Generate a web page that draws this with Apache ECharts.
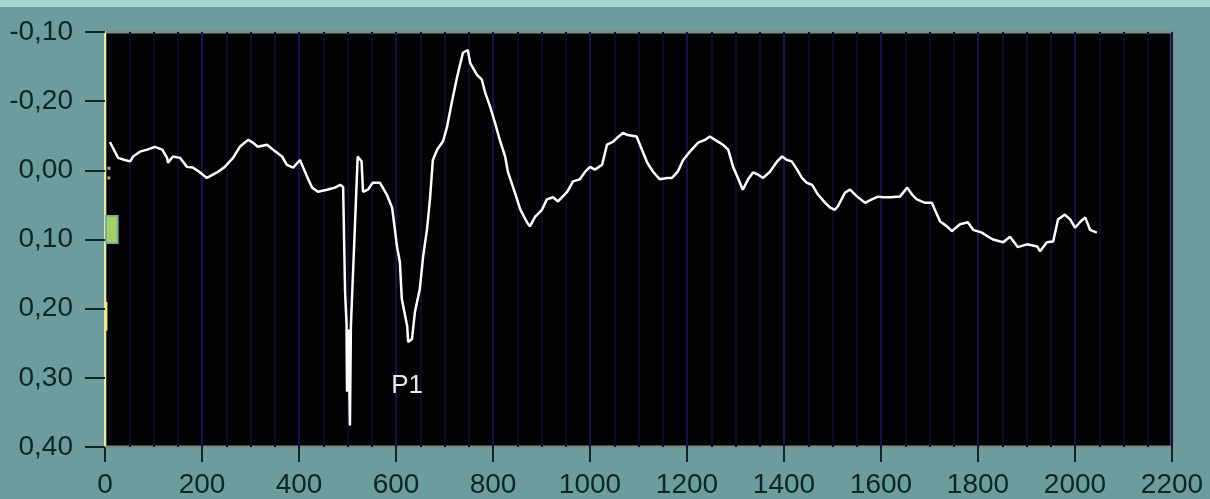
<!DOCTYPE html>
<html>
<head>
<meta charset="utf-8">
<script src="https://cdn.jsdelivr.net/npm/echarts@6/dist/echarts.min.js"></script>
<style>
html,body{margin:0;padding:0;background:#6c9c9e;}
#c{width:1210px;height:499px;}
</style>
</head>
<body>
<div id="c"></div>
<script>
// sample positions (x axis) and signal values
const xValues = [10,16,27,41,52,58,72,87,103,118,128,130,140,155,169,181,196,210,231,247,264,278,295,305,315,334,346,365,375,388,402,408,419,427,439,458,474,485,491,495,498,499,502,505,507,515,521,529,532,542,552,567,581,592,602,608,612,623,625,633,639,649,656,664,670,676,685,697,705,715,726,738,748,753,767,777,784,794,804,814,825,831,845,856,870,876,887,901,911,924,934,953,965,979,990,1000,1010,1025,1035,1047,1056,1068,1078,1096,1107,1118,1130,1144,1159,1169,1181,1192,1206,1223,1237,1247,1258,1274,1285,1295,1305,1315,1326,1336,1346,1357,1371,1386,1396,1406,1416,1427,1437,1447,1458,1470,1485,1495,1505,1511,1526,1536,1551,1567,1581,1594,1604,1619,1639,1654,1664,1674,1691,1705,1711,1722,1736,1746,1763,1779,1790,1808,1821,1831,1852,1866,1882,1901,1922,1928,1942,1955,1965,1979,1990,2000,2010,2021,2031,2045];
const signal = [0.041,0.033,0.018,0.015,0.013,0.020,0.027,0.030,0.034,0.030,0.018,0.011,0.020,0.018,0.005,0.004,-0.003,-0.011,-0.003,0.005,0.018,0.034,0.044,0.040,0.034,0.037,0.030,0.020,0.008,0.004,0.015,0.005,-0.013,-0.025,-0.031,-0.028,-0.025,-0.021,-0.024,-0.176,-0.222,-0.320,-0.230,-0.369,-0.225,-0.086,0.020,0.013,-0.031,-0.028,-0.018,-0.018,-0.035,-0.054,-0.110,-0.133,-0.186,-0.225,-0.248,-0.244,-0.205,-0.172,-0.124,-0.085,-0.042,0.015,0.030,0.042,0.062,0.098,0.135,0.170,0.174,0.155,0.138,0.131,0.112,0.092,0.069,0.044,0.020,-0.003,-0.032,-0.056,-0.075,-0.081,-0.067,-0.057,-0.042,-0.039,-0.045,-0.031,-0.016,-0.013,-0.002,0.005,0.001,0.008,0.037,0.041,0.047,0.054,0.051,0.049,0.030,0.011,-0.002,-0.013,-0.011,-0.011,-0.002,0.015,0.027,0.040,0.044,0.049,0.044,0.037,0.030,0.005,-0.011,-0.028,-0.013,-0.003,-0.006,-0.011,-0.002,0.013,0.020,0.015,0.013,0.001,-0.011,-0.018,-0.021,-0.035,-0.047,-0.054,-0.057,-0.052,-0.032,-0.028,-0.038,-0.047,-0.042,-0.038,-0.039,-0.039,-0.038,-0.025,-0.035,-0.042,-0.047,-0.047,-0.057,-0.074,-0.081,-0.088,-0.078,-0.075,-0.086,-0.090,-0.096,-0.100,-0.104,-0.096,-0.111,-0.107,-0.110,-0.117,-0.104,-0.103,-0.071,-0.064,-0.071,-0.083,-0.075,-0.068,-0.086,-0.090];
// y tick labels from bottom (-0.4) to top (0.2), as printed on the original
const yTickLabels = ['0,40','0,30','0,20','0,10','0,00','-0,20','-0,10'];
const xTickLabels = ['0','200','400','600','800','1000','1200','1400','1600','1800','2000','2200'];
// annotation
const peakLabel = {text: 'P1', x: 623, y: -0.312};
// small coloured artefacts at the left edge of the trace (x range, y range)
const artefactGreen = {x: [2, 26], y: [-0.066, -0.105]};
const artefactYellow = {x: [1, 5], y: [-0.19, -0.232]};
const artefactDots = [[8, 0.003], [8, -0.011]];

const chart = echarts.init(document.getElementById('c'), null, {renderer: 'canvas'});
const lineData = xValues.map((x, i) => [x, signal[i]]);
const font = '"Liberation Sans", Arial, sans-serif';
chart.setOption({
  backgroundColor: '#6c9c9e',
  animation: false,
  graphic: [{type: 'rect', shape: {x: 0, y: 0, width: 1210, height: 7}, style: {fill: '#a6d6cf'}, silent: true}],
  grid: {left: 105, right: 38, top: 32, bottom: 51, show: true, backgroundColor: '#020204', borderColor: '#7e8b8b', borderWidth: 3},
  xAxis: {
    type: 'value', min: 0, max: 2200, interval: 200,
    axisLine: {show: false, onZero: false},
    axisTick: {show: true, length: 15, inside: false, lineStyle: {color: '#102626', width: 2}},
    axisLabel: {color: '#0c2626', fontSize: 28, fontFamily: font, margin: 24,
      formatter: v => xTickLabels[Math.round(v / 200)] || ''},
    splitLine: {show: true, lineStyle: {color: '#13134a', width: 2}},
    minorTick: {show: false, splitNumber: 4},
    minorSplitLine: {show: true, lineStyle: {color: '#0b0b2c', width: 2}}
  },
  yAxis: {
    type: 'value', min: -0.4, max: 0.2, interval: 0.1,
    axisLine: {show: true, onZero: false, lineStyle: {color: '#ecec9c', width: 2}},
    axisTick: {show: true, length: 20, lineStyle: {color: '#102626', width: 2}},
    axisLabel: {color: '#0c2626', fontSize: 28, fontFamily: font, margin: 32,
      formatter: v => yTickLabels[Math.round((v + 0.4) / 0.1)] || ''},
    splitLine: {show: false}
  },
  series: [{
    type: 'line', data: lineData, showSymbol: false, symbol: 'none',
    lineStyle: {color: '#ffffff', width: 2.5}, silent: true,
    markPoint: {
      symbol: 'circle', symbolSize: 0, silent: true,
      label: {show: true, position: 'inside', formatter: peakLabel.text, color: '#e8e8e8', fontSize: 26, fontFamily: font},
      data: [{coord: [peakLabel.x, peakLabel.y]}]
    },
    markArea: {
      silent: true,
      data: [
        [{xAxis: artefactGreen.x[0], yAxis: artefactGreen.y[0], itemStyle: {color: '#a8d060', borderColor: '#6fb0a8', borderWidth: 2}},
         {xAxis: artefactGreen.x[1], yAxis: artefactGreen.y[1]}],
        [{xAxis: artefactYellow.x[0], yAxis: artefactYellow.y[0], itemStyle: {color: '#e8e880'}},
         {xAxis: artefactYellow.x[1], yAxis: artefactYellow.y[1]}]
      ]
    }
  }, {
    type: 'scatter', data: artefactDots, symbol: 'rect', symbolSize: 3,
    itemStyle: {color: '#d8d8b0'}, silent: true
  }]
});
</script>
</body>
</html>
